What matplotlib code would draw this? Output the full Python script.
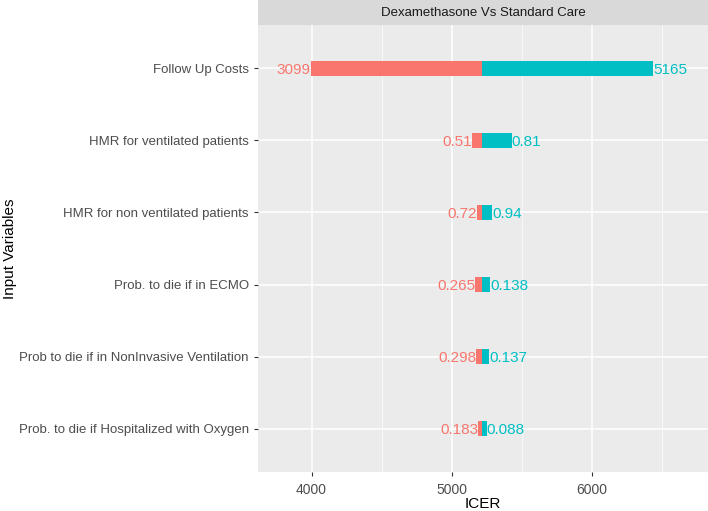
import matplotlib.pyplot as plt
from matplotlib.ticker import MultipleLocator

plt.rcParams["font.family"] = ["Liberation Sans", "DejaVu Sans"]

# tornado data, top to bottom
variables = [
    "Follow Up Costs",
    "HMR for ventilated patients",
    "HMR for non ventilated patients",
    "Prob. to die if in ECMO",
    "Prob to die if in NonInvasive Ventilation",
    "Prob. to die if Hospitalized with Oxygen",
]
low_icer = [3995, 5147, 5183, 5169, 5176, 5191]
high_icer = [6440, 5428, 5288, 5274, 5267, 5251]
low_labels = ["3099", "0.51", "0.72", "0.265", "0.298", "0.183"]
high_labels = ["5165", "0.81", "0.94", "0.138", "0.137", "0.088"]
base_icer = 5220

red = "#F8766D"
cyan = "#00BFC4"

fig = plt.figure(figsize=(7.08, 5.11), dpi=100)
ax = fig.add_axes([258 / 708, 39 / 511, 450 / 708, 447 / 511])
ax.set_facecolor("#EBEBEB")

ypos = [len(variables) - i for i in range(len(variables))]
h = 0.21
for y, lo, hi, ll, hl in zip(ypos, low_icer, high_icer, low_labels, high_labels):
    ax.barh(y, base_icer - lo, left=lo, height=h, color=red, zorder=3)
    ax.barh(y, hi - base_icer, left=base_icer, height=h, color=cyan, zorder=3)
    ax.text(lo, y, ll, color=red, ha="right", va="center_baseline", fontsize=11, zorder=4)
    ax.text(hi, y, hl, color=cyan, ha="left", va="center_baseline", fontsize=11, zorder=4)

ax.set_xlim(3617, 6831)
ax.set_ylim(0.4, 6.6)
ax.set_yticks(ypos)
ax.set_yticklabels(variables)
ax.xaxis.set_major_locator(MultipleLocator(1000))
ax.xaxis.set_minor_locator(MultipleLocator(500))
ax.grid(True, which="major", color="white", linewidth=1.1, zorder=0)
ax.grid(True, which="minor", axis="x", color="white", linewidth=0.5, zorder=0)
ax.set_axisbelow(True)
for s in ax.spines.values():
    s.set_visible(False)
ax.tick_params(axis="both", which="major", colors="#333333", labelcolor="#4D4D4D",
               length=3)
ax.tick_params(axis="y", labelsize=9.5)
ax.tick_params(axis="x", labelsize=10, pad=5)
ax.tick_params(axis="x", which="minor", length=0)
ax.set_xlabel("ICER", fontsize=11, color="black")
ax.xaxis.set_label_coords(0.5, -0.056)
ax.set_ylabel("Input Variables", fontsize=11, color="black")
ax.yaxis.set_label_coords(-0.535, 0.5)

# facet strip
strip = fig.add_axes([258 / 708, 486 / 511, 450 / 708, 25 / 511])
strip.set_facecolor("#D9D9D9")
strip.set_xticks([])
strip.set_yticks([])
for s in strip.spines.values():
    s.set_visible(False)
strip.text(0.5, 0.5, "Dexamethasone Vs Standard Care", ha="center", va="center",
           fontsize=9.5, color="#1A1A1A", transform=strip.transAxes)

fig.savefig("out.png", dpi=100)
